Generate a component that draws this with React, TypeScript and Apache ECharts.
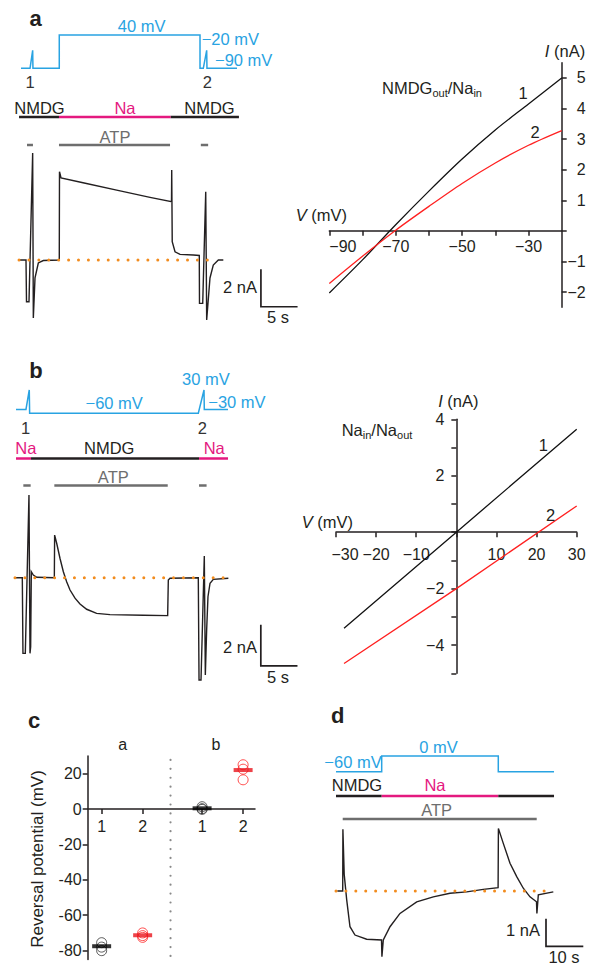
import React, { useEffect, useRef } from 'react';
import * as echarts from 'echarts';

type Pt = [number, number];
type Seg = [string, number, number];

// ---------------- DATA ----------------
// Panel a (time in s, voltage in mV, current in nA)
const PROTOCOL_A: Pt[] = [[0.37, -90], [1.6, -90], [1.96, -20], [2.0, -90], [5.59, -90], [5.59, 40], [24.79, 40], [24.79, -90], [25.24, -90], [25.7, -20], [25.74, -90], [29.84, -90]];
const SOLUTION_A: Seg[] = [['NMDG', 0.1, 5.55], ['Na', 5.55, 20.8], ['NMDG', 20.8, 30.1]];
const ATP_A: Pt[] = [[1.19, 2.0], [5.55, 20.7], [24.9, 25.9]];
const TRACE_A: Pt[] = [[0, 0], [1.05, 0], [1.12, -2.23], [1.46, -2.23], [1.96, 5.72], [2.05, -3.1], [2.28, -0.96], [2.73, -0.16], [3.41, -0.03], [5.59, 0], [5.62, 4.72], [5.83, 4.39], [8.83, 4.13], [13.42, 3.74], [17.97, 3.35], [20.9, 3.12], [20.93, 4.81], [21.0, 0.98], [21.38, 0.44], [22.06, 0.3], [23.87, 0.27], [24.69, 0.24], [24.72, -2.32], [25.16, -2.32], [25.57, 3.65], [25.7, -3.21], [26.15, -0.96], [26.6, -0.27], [27.29, 0], [27.97, 0]];
const BASELINE_A: [number, number] = [0.1, 27.1];
const SCALEBAR_A = { t: 33.1, i: -0.5, nA: 2, s: 5 };

const IV_A_V = [-90, -80, -70, -60, -50, -40, -30, -20];
const IV_A_1 = [-2.03, -0.95, 0.2, 1.3, 2.35, 3.3, 4.15, 5.0];
const IV_A_2 = [-1.72, -0.83, 0.02, 0.8, 1.55, 2.22, 2.8, 3.28];
const IV_A_XTICKS = [-90, -80, -70, -60, -50, -40, -30];
const IV_A_XLABELS = [-90, -70, -50, -30];
const IV_A_YTICKS = [-2, -1, 0, 1, 2, 3, 4, 5];
const IV_A_YLABELS = [-2, -1, 1, 2, 3, 4, 5];

// Panel b
const PROTOCOL_B: Pt[] = [[0, -45], [1.36, -45], [1.81, 30], [1.86, -60], [24.87, -60], [25.65, 30], [25.69, -45], [28.92, -45]];
const SOLUTION_B: Seg[] = [['Na', 0, 2.05], ['NMDG', 2.05, 24.97], ['Na', 24.97, 28.92]];
const ATP_B: Pt[] = [[1.0, 2.0], [5.23, 20.7], [24.97, 26.0]];
const TRACE_B: Pt[] = [[0, 0], [0.86, 0], [0.95, -3.69], [1.27, -3.69], [1.77, 4.03], [1.91, -3.69], [2.0, -3.37], [2.09, 0.29], [2.36, 0.13], [2.82, 0.02], [5.23, 0], [5.27, 2.08], [5.55, 1.68], [6.0, 0.95], [6.46, 0.29], [6.91, -0.2], [7.37, -0.6], [8.05, -1.0], [8.73, -1.28], [9.64, -1.54], [11.0, -1.74], [12.82, -1.8], [17.37, -1.83], [20.69, -1.85], [20.78, -0.11], [21.01, -0.03], [24.87, 0], [24.97, -4.99], [25.24, -4.99], [25.69, 1.06], [25.83, -4.75], [26.01, -2.55], [26.19, -0.93], [26.47, -0.27], [26.92, -0.08], [28.97, -0.03]];
const BASELINE_B: [number, number] = [-0.14, 28.5];
const SCALEBAR_B = { t: 33.4, i: -2.3, nA: 2, s: 5 };

const IV_B_V = [-28, 0, 30];
const IV_B_1 = [-3.4, 0.0, 3.65];
const IV_B_2 = [-4.65, -2.0, 0.93];
const IV_B_XLABELS = [-30, -20, -10, 10, 20, 30];
const IV_B_YLABELS = [-4, -2, 2, 4];

// Panel c (reversal potentials, mV)
const REV_POS = [1, 2, 3.45, 4.45];
const REV_TICK_LABELS = ['1', '2', '1', '2'];
const REV_A1 = [-75.5, -78, -80];
const REV_A2 = [-70, -71.5, -72.5];
const REV_B1 = [1.3, 0.2, -0.2];
const REV_B2 = [25, 22.5, 16.5];
const REV_MEANS = [-77.5, -71.3, 0.4, 22];
const REV_DIVIDER = 2.68;
const REV_YTICKS = [-80, -60, -40, -20, 0, 20];

// Panel d
const PROTOCOL_D: Pt[] = [[0, -60], [12.25, -60], [12.25, 0], [43.51, 0], [43.51, -60], [58.45, -60]];
const SOLUTION_D: Seg[] = [['NMDG', 0, 12.25], ['Na', 12.25, 43.51], ['NMDG', 43.51, 58.45]];
const ATP_D: Pt[] = [[1.8, 53.81]];
const TRACE_D: Pt[] = [[0.35, 0], [1.8, 0], [1.85, 2.23], [2.2, 0.6], [2.87, -0.32], [3.75, -1.29], [5.09, -1.59], [8.23, -1.74], [12.2, -1.77], [12.31, -2.37], [12.68, -1.77], [14.48, -1.29], [17.16, -0.81], [21.64, -0.39], [26.09, -0.21], [30.56, -0.08], [35.04, -0.03], [39.49, 0.06], [43.46, 0.12], [43.54, 2.26], [44.85, 1.72], [46.65, 1.0], [48.45, 0.52], [50.21, 0.1], [52.01, -0.21], [53.75, -0.39], [53.86, -0.81], [54.24, -0.14], [58.26, -0.03]];
const BASELINE_D: [number, number] = [0, 58.26];
const SCALEBAR_D = { t: 56.3, i: -1, nA: 1, s: 10 };

// ---------------- STYLE ----------------
const FONT = "'Liberation Sans', Arial, Helvetica, sans-serif";
const INK = '#231f20';
const BLUE = '#29a3e2';
const MAGENTA = '#e4197f';
const GREY = '#6e6e6e';
const ORANGE = '#f28c1e';
const RED = '#ff2020';

function buildOption() {
  const grids: any[] = [];
  const xAxes: any[] = [];
  const yAxes: any[] = [];
  const series: any[] = [];
  const graphics: any[] = [];

  const line = (g: number, data: Pt[], color: string, width: number, extra: any = {}) => ({
    type: 'line', xAxisIndex: g, yAxisIndex: g, data, symbol: 'none', showSymbol: false,
    lineStyle: { color, width, cap: 'butt', join: 'miter' }, silent: true, clip: false, z: 3, ...extra,
  });

  const addGrid = (box: { left: number; top: number; width: number; height: number }, xa: any, ya: any) => {
    const i = grids.length;
    grids.push({ ...box, containLabel: false, outerBoundsMode: 'none', show: false });
    xAxes.push({ type: 'value', gridIndex: i, ...xa });
    yAxes.push({ type: 'value', gridIndex: i, ...ya });
    return i;
  };
  const hiddenGrid = (left: number, width: number, xmin: number, xmax: number, top: number, height: number, ymin: number, ymax: number) =>
    addGrid({ left, top, width, height }, { min: xmin, max: xmax, show: false }, { min: ymin, max: ymax, show: false });

  type Row = { ref: number; refPx: number; ppu: number; ymin: number; ymax: number };
  const timePanel = (cfg: {
    left: number; pps: number; tmax: number; protoRow: Row; solY: number; atpY: number; traceRow: Row;
    proto: Pt[]; sol: Seg[]; atp: Pt[]; trace: Pt[]; base: [number, number]; scale: { t: number; i: number; nA: number; s: number };
  }) => {
    const left = cfg.left - cfg.pps; // x range starts at -1 s
    const width = (cfg.tmax + 1) * cfg.pps;
    const g = (r: Row) => hiddenGrid(left, width, -1, cfg.tmax, r.refPx - (r.ymax - r.ref) * r.ppu, (r.ymax - r.ymin) * r.ppu, r.ymin, r.ymax);
    const gp = g(cfg.protoRow);
    series.push(line(gp, cfg.proto, BLUE, 1.5));
    const gs = g({ ref: 0, refPx: cfg.solY, ppu: 1, ymin: -5, ymax: 5 });
    cfg.sol.forEach(([ion, s, e]) => series.push(line(gs, [[s, 0], [e, 0]], ion === 'Na' ? MAGENTA : INK, 2.5)));
    const ga = g({ ref: 0, refPx: cfg.atpY, ppu: 1, ymin: -5, ymax: 5 });
    cfg.atp.forEach(([s, e]) => series.push(line(ga, [[s, 0], [e, 0]], GREY, 2.5)));
    const gt = g(cfg.traceRow);
    series.push(line(gt, cfg.trace, INK, 1.4));
    series.push(line(gt, [[cfg.base[0], 0], [cfg.base[1], 0]], ORANGE, 3, {
      lineStyle: { color: ORANGE, width: 3, type: [0.01, 9.9], cap: 'round' }, z: 4,
    }));
    const sb = cfg.scale;
    series.push(line(gt, [[sb.t, sb.i], [sb.t, sb.i - sb.nA], [sb.t + sb.s, sb.i - sb.nA]], INK, 1.7));
  };

  timePanel({
    left: 18.3, pps: 7.33, tmax: 40,
    protoRow: { ref: -90, refPx: 68.3, ppu: 0.2562, ymin: -100, ymax: 50 },
    solY: 117, atpY: 145,
    traceRow: { ref: 0, refPx: 260, ppu: 18.7, ymin: -4, ymax: 6 },
    proto: PROTOCOL_A, sol: SOLUTION_A, atp: ATP_A, trace: TRACE_A, base: BASELINE_A, scale: SCALEBAR_A,
  });
  timePanel({
    left: 16, pps: 7.33, tmax: 40,
    protoRow: { ref: -60, refPx: 413.3, ppu: 0.2589, ymin: -70, ymax: 40 },
    solY: 458.5, atpY: 485.5,
    traceRow: { ref: 0, refPx: 577.7, ppu: 20.5, ymin: -6, ymax: 6 },
    proto: PROTOCOL_B, sol: SOLUTION_B, atp: ATP_B, trace: TRACE_B, base: BASELINE_B, scale: SCALEBAR_B,
  });
  timePanel({
    left: 336, pps: 3.73, tmax: 67,
    protoRow: { ref: -60, refPx: 771.7, ppu: 0.2617, ymin: -70, ymax: 10 },
    solY: 796, atpY: 819,
    traceRow: { ref: 0, refPx: 891, ppu: 27.7, ymin: -3, ymax: 3 },
    proto: PROTOCOL_D, sol: SOLUTION_D, atp: ATP_D, trace: TRACE_D, base: BASELINE_D, scale: SCALEBAR_D,
  });

  const axisLine = { show: true, onZero: false, lineStyle: { color: INK, width: 1.5 } };
  const tickStyle = { show: true, length: 5, lineStyle: { color: INK, width: 1.5 } };
  const minus = (v: number) => String(v).replace('-', '\u2212');
  const labelBase = { color: INK, fontSize: 16, fontFamily: FONT };
  const noSplit = { splitLine: { show: false } };
  const hiddenAx = (min: number, max: number) => ({ min, max, show: false });

  // Pixel of value 0 inside a box whose axis spans [min, max]
  const zeroY = (top: number, height: number, min: number, max: number) => top + (max / (max - min)) * height;
  const zeroX = (left: number, width: number, min: number, max: number) => left + (-min / (max - min)) * width;

  // IV plot a
  {
    const box = { left: 329.3, top: 62.7, width: 232.4, height: 244.6 };
    const [xmin, xmax, ymin, ymax] = [-90, -20, -2.5, 5.5];
    const i = addGrid(box, hiddenAx(xmin, xmax), {
      position: 'right', min: ymin, max: ymax,
      axisLine, axisTick: { ...tickStyle, customValues: IV_A_YTICKS },
      axisLabel: { ...labelBase, customValues: IV_A_YLABELS, formatter: minus, margin: 24, align: 'right' },
      ...noSplit,
    });
    const z0 = zeroY(box.top, box.height, ymin, ymax);
    addGrid({ left: box.left, top: box.top, width: box.width, height: z0 - box.top }, {
      position: 'bottom', min: xmin, max: xmax, interval: 10,
      axisLine, axisTick: { ...tickStyle, customValues: IV_A_XTICKS },
      axisLabel: { ...labelBase, customValues: IV_A_XLABELS, formatter: minus, margin: 8, alignMinLabel: 'left', showMinLabel: true },
      ...noSplit,
    }, hiddenAx(0, 1));
    series.push(line(i, IV_A_V.map((v, k) => [v, IV_A_1[k]] as Pt), '#111', 1.3, { smooth: 0.3 }));
    series.push(line(i, IV_A_V.map((v, k) => [v, IV_A_2[k]] as Pt), RED, 1.3, { smooth: 0.3 }));
  }

  // IV plot b
  {
    const box = { left: 336, top: 419.3, width: 240.7, height: 254 };
    const [xmin, xmax, ymin, ymax] = [-30, 30, -5, 4];
    const i = addGrid(box, hiddenAx(xmin, xmax), hiddenAx(ymin, ymax));
    const z0 = zeroY(box.top, box.height, ymin, ymax);
    const x0 = zeroX(box.left, box.width, xmin, xmax);
    addGrid({ left: box.left, top: box.top, width: box.width, height: z0 - box.top }, {
      position: 'bottom', min: xmin, max: xmax, interval: 10,
      axisLine, axisTick: tickStyle,
      axisLabel: {
        ...labelBase, customValues: IV_B_XLABELS, margin: 14,
        formatter: (v: number) => (v === xmin ? `{first|${minus(v)}}` : minus(v)),
        rich: { first: { ...labelBase, padding: [0, 0, 0, 18] } },
      },
      ...noSplit,
    }, hiddenAx(0, 1));
    addGrid({ left: x0, top: box.top, width: box.left + box.width - x0, height: box.height }, hiddenAx(0, 1), {
      position: 'left', min: ymin, max: ymax, interval: 1,
      axisLine, axisTick: tickStyle,
      axisLabel: { ...labelBase, customValues: IV_B_YLABELS, formatter: minus, margin: 12 },
      ...noSplit,
    });
    series.push(line(i, IV_B_V.map((v, k) => [v, IV_B_1[k]] as Pt), '#111', 1.3));
    series.push(line(i, IV_B_V.map((v, k) => [v, IV_B_2[k]] as Pt), RED, 1.3));
  }

  // Panel c
  {
    const box = { left: 87.7, top: 755.9, width: 167.3, height: 203.6 };
    const [xmin, xmax, ymin, ymax] = [0.66, 4.74, -85, 30];
    const i = addGrid(box, hiddenAx(xmin, xmax), {
      position: 'left', min: ymin, max: ymax,
      axisLine, axisTick: { ...tickStyle, customValues: REV_YTICKS },
      axisLabel: { ...labelBase, customValues: REV_YTICKS, margin: 6 },
      ...noSplit,
    });
    const z0 = zeroY(box.top, box.height, ymin, ymax);
    addGrid({ left: box.left, top: box.top, width: box.width, height: z0 - box.top }, {
      position: 'bottom', min: xmin, max: xmax,
      axisLine, axisTick: { ...tickStyle, customValues: REV_POS },
      axisLabel: {
        ...labelBase, customValues: REV_POS, margin: 9,
        formatter: (v: number) => {
          let best = 0;
          REV_POS.forEach((p, k) => { if (Math.abs(p - v) < Math.abs(REV_POS[best] - v)) best = k; });
          return REV_TICK_LABELS[best];
        },
      },
      ...noSplit,
    }, hiddenAx(0, 1));
    series.push(line(i, [[REV_DIVIDER, -83], [REV_DIVIDER, 29.8]], '#8a8a8a', 2, {
      lineStyle: { color: '#8a8a8a', width: 2.2, type: [0.01, 8.9], cap: 'round' },
    }));
    const groups = [REV_A1, REV_A2, REV_B1, REV_B2];
    const cols = ['#333333', RED, '#333333', RED];
    groups.forEach((vals, k) => {
      series.push({
        type: 'scatter', xAxisIndex: i, yAxisIndex: i, silent: true, z: 4,
        data: vals.map((v) => [REV_POS[k], v]),
        symbol: 'circle', symbolSize: 10,
        itemStyle: { color: 'rgba(0,0,0,0)', borderColor: cols[k], borderWidth: 1 },
      });
      series.push({
        type: 'scatter', xAxisIndex: i, yAxisIndex: i, silent: true, z: 5,
        data: [[REV_POS[k], REV_MEANS[k]]],
        symbol: 'rect', symbolSize: [19, 4],
        itemStyle: { color: k % 2 === 0 ? '#000' : '#e8141b' },
      });
    });
  }

  // -------- Texts --------
  const txt = (x: number, y: number, text: string, o: any = {}) => {
    const align = o.align || 'center';
    return {
      type: 'text', x, y, z: 100, silent: true, rotation: o.rotation || 0,
      style: {
        text, fill: o.color || INK, fontSize: o.size || 16.5, fontFamily: FONT,
        fontWeight: o.weight || 'normal', fontStyle: 'normal',
        textAlign: align, textVerticalAlign: 'middle', align, verticalAlign: 'middle',
        ...(o.rich ? { rich: o.rich } : {}),
      },
    };
  };
  const it = { i: { fontStyle: 'italic', fontSize: 16.5, fontFamily: FONT, fill: INK } };
  const subRich = {
    m: { fontSize: 16.5, fontFamily: FONT, fill: INK },
    s: { fontSize: 11, fontFamily: FONT, fill: INK, padding: [9, 0, 0, 0] },
  };
  const bold = { size: 22, weight: 'bold' };

  graphics.push(
    // a
    txt(35.5, 18.4, 'a', bold),
    txt(141.7, 26, '40 mV', { color: BLUE }),
    txt(201.7, 39.3, '\u221220 mV', { color: BLUE, align: 'left' }),
    txt(215, 60, '\u221290 mV', { color: BLUE, align: 'left' }),
    txt(30, 82, '1', { color: '#333' }),
    txt(207.3, 82, '2', { color: '#333' }),
    txt(39.5, 108, 'NMDG'),
    txt(125, 108, 'Na', { color: MAGENTA }),
    txt(209.5, 108, 'NMDG'),
    txt(115, 137, 'ATP', { color: GREY }),
    txt(257, 287, '2 nA', { align: 'right' }),
    txt(278, 317, '5 s'),
    txt(565, 50.7, '{i|I} (nA)', { rich: it }),
    txt(347, 215, '{i|V} (mV)', { rich: it, align: 'right' }),
    txt(382, 88, '{m|NMDG}{s|out}{m|/Na}{s|in}', { rich: subRich, align: 'left' }),
    txt(523, 93, '1'),
    txt(535, 132, '2'),
    // b
    txt(36, 370, 'b', bold),
    txt(205.8, 379, '30 mV', { color: BLUE }),
    txt(114.2, 403.3, '\u221260 mV', { color: BLUE }),
    txt(208.3, 402, '\u221230 mV', { color: BLUE, align: 'left' }),
    txt(25.7, 428.3, '1', { color: '#333' }),
    txt(202.3, 428.3, '2', { color: '#333' }),
    txt(25.8, 448, 'Na', { color: MAGENTA }),
    txt(109.2, 448, 'NMDG'),
    txt(214.2, 448, 'Na', { color: MAGENTA }),
    txt(113.3, 477, 'ATP', { color: GREY }),
    txt(257, 647.3, '2 nA', { align: 'right' }),
    txt(278, 677, '5 s'),
    txt(458.3, 400.7, '{i|I} (nA)', { rich: it }),
    txt(353, 521.7, '{i|V} (mV)', { rich: it, align: 'right' }),
    txt(341.7, 430, '{m|Na}{s|in}{m|/Na}{s|out}', { rich: subRich, align: 'left' }),
    txt(543.3, 445, '1'),
    txt(550.7, 515, '2'),
    // c
    txt(34, 720.7, 'c', bold),
    txt(122.7, 744, 'a', { size: 16 }),
    txt(216, 744, 'b', { size: 16 }),
    txt(37, 859, 'Reversal potential (mV)', { size: 17, rotation: Math.PI / 2 }),
    // d
    txt(337.7, 715, 'd', bold),
    txt(353, 761.7, '\u221260 mV', { color: BLUE }),
    txt(438.5, 746.7, '0 mV', { color: BLUE }),
    txt(357, 785, 'NMDG'),
    txt(435, 785, 'Na', { color: MAGENTA }),
    txt(436.7, 810, 'ATP', { color: GREY }),
    txt(540, 930, '1 nA', { align: 'right' }),
    txt(564, 956.7, '10 s'),
  );

  return {
    animation: false,
    backgroundColor: '#ffffff',
    textStyle: { fontFamily: FONT },
    grid: grids,
    xAxis: xAxes,
    yAxis: yAxes,
    series,
    graphic: { elements: graphics },
  };
}

export default function App() {
  const ref = useRef<HTMLDivElement>(null);
  useEffect(() => {
    if (!ref.current) return;
    const chart = echarts.init(ref.current, null, { renderer: 'svg' });
    chart.setOption(buildOption() as any);
    return () => chart.dispose();
  }, []);
  return (
    <div
      ref={ref}
      style={{ position: 'fixed', left: 0, top: 0, width: 591, height: 967, background: '#fff' }}
    />
  );
}
